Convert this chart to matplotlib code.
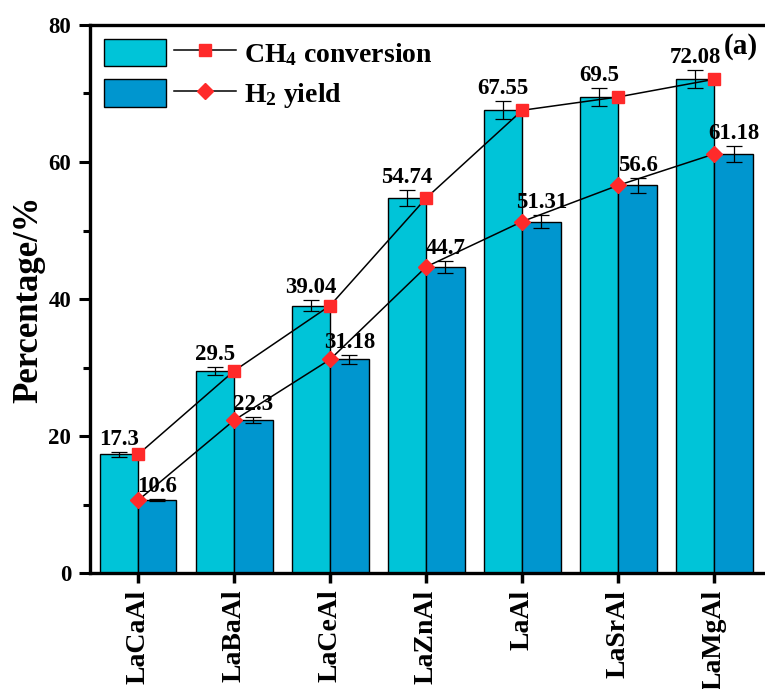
import matplotlib
matplotlib.use("Agg")
import matplotlib.pyplot as plt
from matplotlib.legend_handler import HandlerTuple
import numpy as np

catalysts = ["LaCaAl", "LaBaAl", "LaCeAl", "LaZnAl", "LaAl", "LaSrAl", "LaMgAl"]
ch4_conversion = [17.3, 29.5, 39.04, 54.74, 67.55, 69.5, 72.08]
h2_yield = [10.6, 22.3, 31.18, 44.7, 51.31, 56.6, 61.18]
ch4_err = [0.3, 0.6, 0.8, 1.1, 1.3, 1.3, 1.3]
h2_err = [0.15, 0.45, 0.6, 0.9, 1.0, 1.1, 1.2]
ch4_labels = ["17.3", "29.5", "39.04", "54.74", "67.55", "69.5", "72.08"]
h2_labels = ["10.6", "22.3", "31.18", "44.7", "51.31", "56.6", "61.18"]

plt.rcParams["font.family"] = ["Liberation Serif", "DejaVu Serif"]
plt.rcParams["font.weight"] = "bold"
plt.rcParams["mathtext.fontset"] = "custom"
plt.rcParams["mathtext.rm"] = "Liberation Serif:bold"
plt.rcParams["mathtext.default"] = "regular"

LIGHT = "#00c4d8"
DARK = "#0096cf"
RED = "#ff2a2a"

fig = plt.figure(figsize=(7.65, 6.89), dpi=100)
ax = fig.add_axes([90 / 765, 116 / 689, 682 / 765, 548 / 689])

x = np.arange(len(catalysts))
w = 0.4
err_kw = dict(ecolor="black", elinewidth=0.9, capsize=6, capthick=0.9)
b1 = ax.bar(x - w / 2, ch4_conversion, w, color=LIGHT, edgecolor="black",
            linewidth=1, yerr=ch4_err, error_kw=err_kw, zorder=2)
b2 = ax.bar(x + w / 2, h2_yield, w, color=DARK, edgecolor="black",
            linewidth=1, yerr=h2_err, error_kw=err_kw, zorder=2)
l1, = ax.plot(x, ch4_conversion, color="black", lw=1.1, marker="s",
              markersize=8, markerfacecolor=RED, markeredgecolor=RED, zorder=4)
l2, = ax.plot(x, h2_yield, color="black", lw=1.1, marker="D",
              markersize=8.5, markerfacecolor=RED, markeredgecolor=RED, zorder=4)

for i in range(len(catalysts)):
    ax.annotate(ch4_labels[i], (x[i] - w / 2, ch4_conversion[i] + ch4_err[i]),
                xytext=(0, 1.5), textcoords="offset points", ha="center",
                va="bottom", fontsize=16.5, fontweight="bold", zorder=5)
    ax.annotate(h2_labels[i], (x[i] + w / 2, h2_yield[i] + h2_err[i]),
                xytext=(0, 1.5), textcoords="offset points", ha="center",
                va="bottom", fontsize=16.5, fontweight="bold", zorder=5)

ax.set_xlim(-0.5, 6.6)
ax.set_ylim(0, 80)
ax.set_xticks(x)
ax.set_xticklabels(catalysts, rotation=90, fontsize=20, fontweight="bold")
ax.set_yticks([0, 20, 40, 60, 80])
ax.set_yticks([10, 30, 50, 70], minor=True)
ax.tick_params(axis="y", which="major", direction="out", length=8, width=2.2,
               labelsize=16.5, pad=5.5)
ax.tick_params(axis="y", which="minor", direction="out", length=5, width=2.2)
ax.tick_params(axis="x", which="major", direction="out", length=7.5, width=2.5,
               pad=4.5)
for sp in ax.spines.values():
    sp.set_linewidth(2.4)
ax.set_ylabel("Percentage/%", fontsize=25, fontweight="bold", labelpad=2)

ax.legend([(b1, l1), (b2, l2)], ["CH$_4$ conversion", "H$_2$ yield"],
          handler_map={tuple: HandlerTuple(ndivide=None, pad=0.29)},
          loc="upper left", frameon=False, handlelength=4.75,
          handleheight=1.15, labelspacing=0.4, handletextpad=0.3,
          borderaxespad=0.1, prop={"weight": "bold", "size": 20})

ax.text(0.979, 0.985, "(a)", transform=ax.transAxes, ha="right", va="top",
        fontsize=21, fontweight="bold")

fig.savefig("out.png", dpi=100)
